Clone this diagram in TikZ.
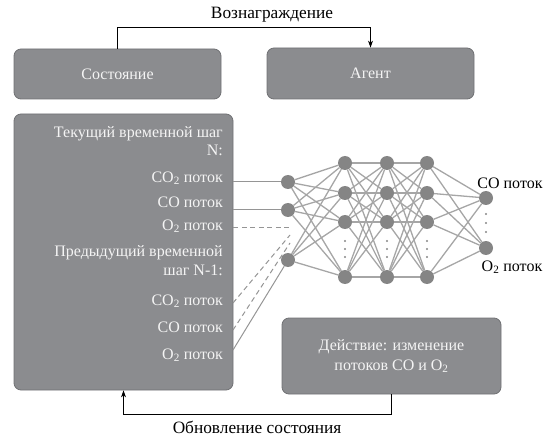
\documentclass[tikz,border=0pt]{standalone}
\usepackage{fontspec}
\setmainfont{Liberation Serif}
\usetikzlibrary{arrows.meta,backgrounds}
\definecolor{boxgray}{HTML}{8B8C8F}
\definecolor{boxedge}{HTML}{707174}
\definecolor{nodegray}{HTML}{858585}
\definecolor{edgegray}{HTML}{A6A6A6}
\definecolor{boxtext}{HTML}{F4F4F4}
\begin{document}
\begin{tikzpicture}[x=1pt,y=-1pt,
  box/.style={draw=boxedge,line width=0.8pt,fill=boxgray,rounded corners=7pt,inner sep=0pt,text=boxtext,font=\fontsize{16}{20}\selectfont},
  btxt/.style={anchor=mid east,inner sep=0pt,text=boxtext,font=\fontsize{16}{20}\selectfont},
  lbl/.style={inner sep=0pt,font=\fontsize{16}{20}\selectfont},
  biglbl/.style={inner sep=0pt,font=\fontsize{17.3}{20}\selectfont},
  neuron/.style={circle,fill=nodegray,draw=none,minimum size=14pt,inner sep=0pt},
  vdot/.style={circle,fill=nodegray,minimum size=2.2pt,inner sep=0pt},
  conn/.style={draw=edgegray,line width=1.3pt},
  inln/.style={draw=edgegray!90!black,line width=1pt},
  dsh/.style={draw=edgegray!90!black,line width=1pt,dash pattern=on 5pt off 3.5pt},
  arr/.style={draw=black,line width=0.9pt,-{Stealth[length=7pt,width=5pt]}}]
\path[use as bounding box] (0,0) rectangle (552,441);

% boxes
\node[box,minimum width=207pt,minimum height=50pt] (state) at (117.5,74) {Состояние};
\node[box,minimum width=207pt,minimum height=51pt] (agent) at (370.5,73.5) {Агент};
\node[box,minimum width=219pt,minimum height=276pt] (big) at (123.5,252) {};
\node[box,minimum width=219pt,minimum height=76pt,align=center] (action) at (391.5,356)
  {Действие: изменение\\потоков CO и O\textsubscript{2}};

% big box texts
\node[btxt] (t1) at (223,135) {Текущий временной шаг};
\node[btxt] (t2) at (223,153) {N:};
\node[btxt] (t3) at (223,180) {CO\textsubscript{2} поток};
\node[btxt] (t4) at (223,205) {CO поток};
\node[btxt] (t5) at (223,228) {O\textsubscript{2} поток};
\node[btxt] (t6) at (223,254) {Предыдущий временной};
\node[btxt] (t7) at (223,273) {шаг N-1:};
\node[btxt] (t8) at (223,303) {CO\textsubscript{2} поток};
\node[btxt] (t9) at (223,330) {CO поток};
\node[btxt] (t10) at (223,357) {O\textsubscript{2} поток};

% labels
\node[biglbl] (reward) at (272,15) {Вознаграждение};
\node[biglbl] (update) at (257,427) {Обновление состояния};
\node[lbl] (outco) at (510,183) {CO поток};
\node[lbl] (outo2) at (512,267) {O\textsubscript{2} поток};

% arrows
\draw[arr] (state.north) -- ++(0,-21) -| (agent.north);
\draw[arr] (action.south) -- ++(0,20) -| (big.south);

% neurons
\node[neuron] (i1) at (288,182) {};
\node[neuron] (i2) at (288,210) {};
\node[neuron] (i3) at (288,260) {};
\foreach \l/\x in {a/345,b/387,c/427}{
  \node[neuron] (\l1) at (\x,163) {};
  \node[neuron] (\l2) at (\x,193) {};
  \node[neuron] (\l3) at (\x,222) {};
  \node[neuron] (\l4) at (\x,277) {};
  \foreach \k/\y in {1/241,2/249,3/257}{\node[vdot] (\l d\k) at (\x,\y) {};}
}
\node[neuron] (o1) at (486,198) {};
\node[neuron] (o2) at (486,248) {};
\foreach \k/\y in {1/214,2/223,3/232}{\node[vdot] (od\k) at (486,\y) {};}

\coordinate (d0) at (290,228);
\coordinate (d1) at (290,235);
\coordinate (d2) at (290,243);
\coordinate (s1) at (233,303);
\coordinate (s2) at (233,330);
\coordinate (s3) at (233,350);

\begin{pgfonlayer}{background}
  \foreach \i in {i1,i2,i3}{\foreach \j in {a1,a2,a3,a4}{\draw[conn] (\i) -- (\j);}}
  \foreach \i in {a1,a2,a3,a4}{\foreach \j in {b1,b2,b3,b4}{\draw[conn] (\i) -- (\j);}}
  \foreach \i in {b1,b2,b3,b4}{\foreach \j in {c1,c2,c3,c4}{\draw[conn] (\i) -- (\j);}}
  \foreach \i in {c1,c2,c3,c4}{\foreach \j in {o1,o2}{\draw[conn] (\i) -- (\j);}}
\end{pgfonlayer}

% input connectors
\draw[inln] (i1 -| big.east) -- (i1);
\draw[inln] (i2 -| big.east) -- (i2);
\draw[dsh] (d0 -| big.east) -- (d0);
\draw[dsh] (s1) -- (d1);
\draw[dsh] (s2) -- (d2);
\draw[inln] (s3) -- (i3);
\end{tikzpicture}
\end{document}
